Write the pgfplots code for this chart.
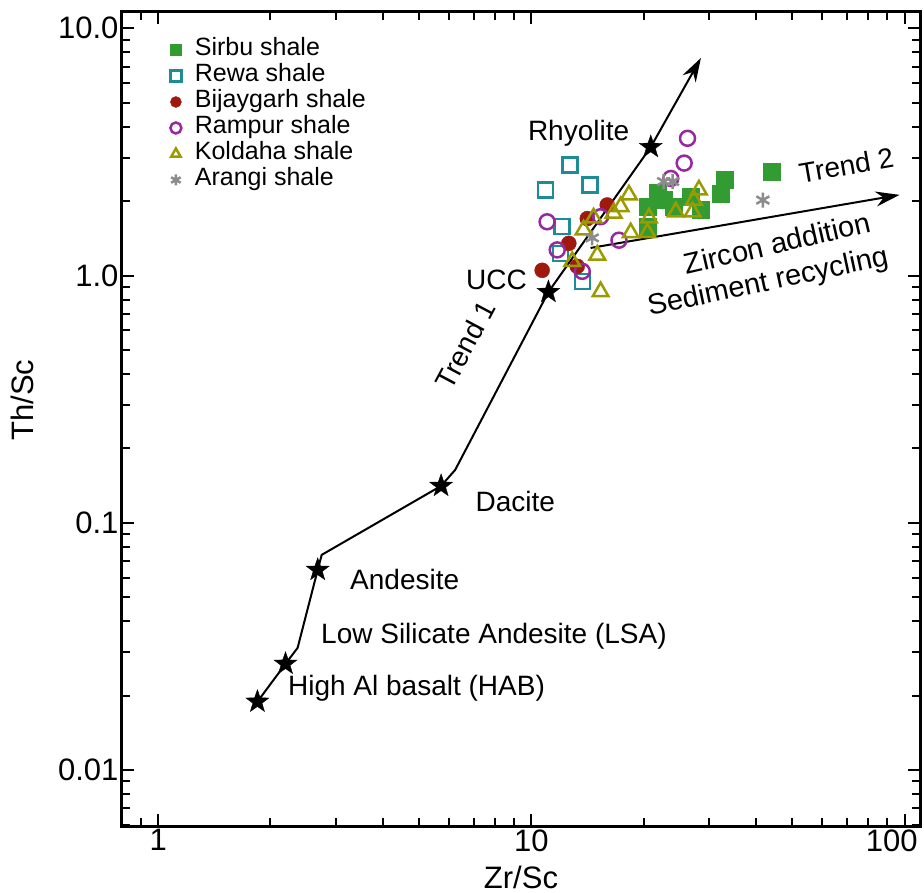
\documentclass[border=0pt]{standalone}
\usepackage{fontspec}
\setmainfont{Liberation Sans}
\usepackage{pgfplots}
\pgfplotsset{compat=1.18}
\usetikzlibrary{arrows.meta}
\definecolor{sirbu}{RGB}{50,155,50}
\definecolor{rewa}{RGB}{30,140,150}
\definecolor{bij}{RGB}{160,25,15}
\definecolor{ramp}{RGB}{150,40,160}
\definecolor{kold}{RGB}{155,155,0}
\definecolor{arang}{RGB}{140,140,140}
\pgfdeclareplotmark{fstar}{%
 \pgfpathmoveto{\pgfqpointpolar{90}{\pgfplotmarksize}}%
 \pgfpathlineto{\pgfqpointpolar{126}{0.4\pgfplotmarksize}}%
 \pgfpathlineto{\pgfqpointpolar{162}{\pgfplotmarksize}}%
 \pgfpathlineto{\pgfqpointpolar{198}{0.4\pgfplotmarksize}}%
 \pgfpathlineto{\pgfqpointpolar{234}{\pgfplotmarksize}}%
 \pgfpathlineto{\pgfqpointpolar{270}{0.4\pgfplotmarksize}}%
 \pgfpathlineto{\pgfqpointpolar{306}{\pgfplotmarksize}}%
 \pgfpathlineto{\pgfqpointpolar{342}{0.4\pgfplotmarksize}}%
 \pgfpathlineto{\pgfqpointpolar{18}{\pgfplotmarksize}}%
 \pgfpathlineto{\pgfqpointpolar{54}{0.4\pgfplotmarksize}}%
 \pgfpathclose\pgfusepathqfillstroke}
\begin{document}
\begin{tikzpicture}
\begin{axis}[
 scale only axis, width=798pt, height=814pt,
 xmode=log, ymode=log, xmin=0.8, xmax=110, ymin=0.00594, ymax=11.64,
 xtick={1,10,100}, xticklabels={1,10,\makebox[26pt][r]{100}},
 ytick={0.01,0.1,1,10}, yticklabels={0.01,0.1,1.0,10.0},
 minor xtick={0.9,2,3,4,5,6,7,8,9,20,30,40,50,60,70,80,90},
 minor ytick={0.006,0.007,0.008,0.009,0.02,0.03,0.04,0.05,0.06,0.07,0.08,0.09,0.2,0.3,0.4,0.5,0.6,0.7,0.8,0.9,2,3,4,5,6,7,8,9},
 /pgf/number format/assume math mode=true,
 tick label style={font=\fontsize{31}{34}\selectfont},
 label style={font=\fontsize{31}{34}\selectfont},
 xlabel={Zr/Sc}, ylabel={Th/Sc},
 xlabel style={at={(axis description cs:0.5,0)}, anchor=base, yshift=-62pt},
 ylabel style={at={(axis description cs:-0.1115,0.523)}, anchor=base},
 axis line style={line width=3pt},
 major tick length=12pt, minor tick length=8pt,
 every tick/.style={line width=2pt, black},
 legend style={at={(0.051,0.972)}, anchor=north west, draw=none, fill=none,
   font=\fontsize{25}{27}\selectfont, row sep=0pt,
   nodes={inner sep=1pt, text height=18pt, text depth=6pt}},
 legend image code/.code={\path[draw=none,fill=none] (0pt,-5pt) (28pt,5pt); \draw[#1] plot coordinates {(10pt,0pt)};},
 legend image post style={mark size=5.5pt},
 legend cell align=left,
]
\addplot[line width=2pt, -{Stealth[length=24pt,width=15pt]}, forget plot] coordinates {
 (1.845,0.0189) (2.194,0.0269) (2.364,0.0312) (2.676,0.0645) (2.743,0.0742)
 (5.73,0.141) (6.25,0.1637) (11.11,0.858) (20.89,3.31) (28.47,7.59)};
\addplot[line width=2pt, -{Stealth[length=24pt,width=15pt]}, forget plot] coordinates {
 (14.41,1.293) (97.0,2.12)};

\addplot[only marks, mark=square*, mark size=8.5pt, color=sirbu] coordinates {
 (44.10,2.63) (32.88,2.44) (32.22,2.15) (26.75,2.08) (28.47,1.84) (21.77,2.16)
 (22.63,2.02) (20.47,1.90) (24.08,1.90) (20.47,1.58)};
\addlegendentry{Sirbu shale}
\addplot[only marks, mark=square, mark size=7.5pt, color=rewa, line width=2.5pt] coordinates {
 (12.68,2.80) (14.35,2.32) (10.90,2.22) (12.09,1.58) (11.97,1.23) (13.69,0.945)};
\addlegendentry{Rewa shale}
\addplot[only marks, mark=*, mark size=7.5pt, color=bij] coordinates {
 (10.69,1.05) (12.60,1.35) (14.12,1.70) (15.97,1.93) (13.27,1.09)};
\addlegendentry{Bijaygarh shale}
\addplot[only marks, mark=o, mark size=7.5pt, color=ramp, line width=2.5pt] coordinates {
 (26.21,3.59) (25.67,2.85) (23.64,2.47) (11.02,1.65) (11.73,1.27) (15.33,1.73)
 (17.17,1.39) (13.69,1.04)};
\addlegendentry{Rampur shale}
\addplot[only marks, mark=triangle, mark size=9pt, color=kold, line width=2.5pt] coordinates {
 (18.26,2.12) (17.35,1.90) (16.61,1.79) (14.68,1.71) (13.80,1.53) (15.02,1.21)
 (12.87,1.14) (15.33,0.861) (18.46,1.49) (20.47,1.49) (20.67,1.71) (24.38,1.81)
 (27.04,1.81) (28.12,2.22) (27.26,2.02)};
\addlegendentry{Koldaha shale}
\addplot[only marks, mark=asterisk, mark size=7.5pt, color=arang, line width=2.5pt] coordinates {
 (22.63,2.40) (23.89,2.40) (14.56,1.42) (41.71,2.02)};
\addlegendentry{Arangi shale}

\addplot[only marks, mark=fstar, mark size=12pt, color=black, forget plot] coordinates {
 (1.845,0.0189) (2.194,0.0269) (2.676,0.0645) (5.73,0.141) (11.11,0.858) (20.89,3.31)};

\node[font=\fontsize{28}{30}\selectfont, anchor=east] at (18.69,3.77) {Rhyolite};
\node[font=\fontsize{28}{30}\selectfont, anchor=east] at (9.94,0.96) {UCC};
\node[font=\fontsize{28}{30}\selectfont, rotate=62] at (6.65,0.524) {Trend 1};
\node[font=\fontsize{28}{30}\selectfont, anchor=west] at (6.94,0.1215) {Dacite};
\node[font=\fontsize{28}{30}\selectfont, anchor=west] at (3.20,0.0588) {Andesite};
\node[font=\fontsize{28}{30}\selectfont, anchor=west] at (2.676,0.0349) {Low Silicate Andesite (LSA)};
\node[font=\fontsize{28}{30}\selectfont, anchor=west] at (2.182,0.0215) {High Al basalt (HAB)};
\node[font=\fontsize{28}{30}\selectfont, rotate=10] at (69.8,2.80) {Trend 2};
\node[font=\fontsize{29}{31}\selectfont, rotate=13] at (45.6,1.354) {Zircon addition};
\node[font=\fontsize{29}{31}\selectfont, rotate=12] at (43.1,0.933) {Sediment recycling};
\end{axis}
\pgfresetboundingbox
\path[use as bounding box] ([shift={(-122pt,-67pt)}]current axis.south west) rectangle ([shift={(4pt,12pt)}]current axis.north east);
\end{tikzpicture}
\end{document}
